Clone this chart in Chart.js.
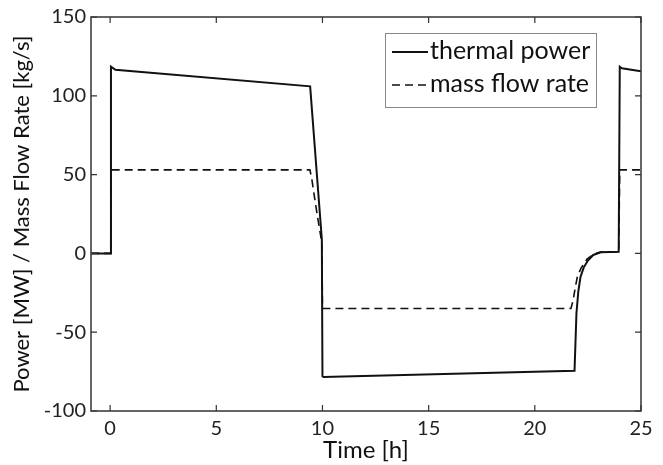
<!DOCTYPE html>
<html>
<head>
<meta charset="utf-8">
<script src="https://cdn.jsdelivr.net/npm/chart.js@4"></script>
<style>
  html, body { margin: 0; padding: 0; background: #fff; }
  #wrap { width: 663px; height: 465px; }
</style>
</head>
<body>
<div id="wrap"><canvas id="grafico" width="663" height="465"></canvas></div>
<script>
// dados
const tempoPotencia = [-0.9, 0.03, 0.04, 0.25, 9.42, 9.97, 10.0, 10.05, 21.87, 21.96, 22.05, 22.15, 22.3, 22.5, 22.75, 23.1, 23.95, 24.0, 24.1, 25];
const potencia      = [0, 0, 118.5, 116.5, 106, 9, -78, -78.5, -74.5, -38, -24, -15, -9, -4.5, -1, 0.7, 1, 118.5, 117.5, 115.5];

const tempoVazao = [-0.9, 0.03, 0.04, 9.41, 9.5, 9.61, 9.77, 9.93, 9.97, 10.0, 21.7, 21.8, 21.9, 22.0, 22.17, 22.47, 22.8, 23.1, 23.95, 24.0, 25];
const vazao      = [0, 0, 53, 53, 47, 37, 23, 10, 9, -35, -35, -30, -22, -15, -9.5, -3.4, -0.3, 0.8, 1, 53, 53];

const ticksX = [0, 5, 10, 15, 20, 25];
const ticksY = [-100, -50, 0, 50, 100, 150];

const fonte = 'Lato, "Open Sans", sans-serif';

// caixa do gráfico + ticks para dentro (estilo matlab)
const moldura = {
  id: 'moldura',
  afterDatasetsDraw(chart) {
    const { ctx, chartArea: a, scales } = chart;
    ctx.save();
    ctx.strokeStyle = '#333';
    ctx.lineWidth = 1.5;
    ctx.strokeRect(a.left, a.top, a.right - a.left, a.bottom - a.top);
    ctx.lineWidth = 1.2;
    ctx.beginPath();
    ticksX.forEach(v => {
      const px = scales.x.getPixelForValue(v);
      ctx.moveTo(px, a.bottom); ctx.lineTo(px, a.bottom - 6);
      ctx.moveTo(px, a.top); ctx.lineTo(px, a.top + 6);
    });
    ticksY.forEach(v => {
      const py = scales.y.getPixelForValue(v);
      ctx.moveTo(a.left, py); ctx.lineTo(a.left + 6, py);
      ctx.moveTo(a.right, py); ctx.lineTo(a.right - 6, py);
    });
    ctx.stroke();

    // legenda
    const bx = a.left + 294, by = a.top + 16, bw = 211, bh = 74;
    ctx.fillStyle = '#fff';
    ctx.fillRect(bx, by, bw, bh);
    ctx.strokeStyle = '#888';
    ctx.lineWidth = 1;
    ctx.strokeRect(bx + 0.5, by + 0.5, bw, bh);
    ctx.font = '25px ' + fonte;
    ctx.textBaseline = 'middle';
    chart.data.datasets.forEach((ds, i) => {
      const y = by + 19 + i * 33;
      ctx.strokeStyle = '#111';
      ctx.lineWidth = ds.borderWidth;
      ctx.setLineDash(ds.borderDash || []);
      ctx.beginPath();
      ctx.moveTo(bx + 7, y); ctx.lineTo(bx + 43, y);
      ctx.stroke();
      ctx.setLineDash([]);
      ctx.fillStyle = '#111';
      ctx.fillText(ds.label, bx + 45, y - 1);
    });
    ctx.restore();
  }
};

new Chart(document.getElementById('grafico'), {
  type: 'line',
  data: {
    datasets: [
      {
        label: 'thermal power',
        data: tempoPotencia.map((t, i) => ({ x: t, y: potencia[i] })),
        borderColor: '#111',
        borderWidth: 2,
        pointRadius: 0,
        tension: 0
      },
      {
        label: 'mass flow rate',
        data: tempoVazao.map((t, i) => ({ x: t, y: vazao[i] })),
        borderColor: '#111',
        borderWidth: 1.6,
        borderDash: [8, 5],
        pointRadius: 0,
        tension: 0
      }
    ]
  },
  plugins: [moldura],
  options: {
    responsive: false,
    animation: false,
    layout: { padding: { top: 12, right: 22, left: 0, bottom: 0 } },
    plugins: { legend: { display: false }, tooltip: { enabled: false } },
    scales: {
      x: {
        type: 'linear',
        min: -0.9,
        max: 25,
        afterBuildTicks: s => { s.ticks = ticksX.map(v => ({ value: v })); },
        afterFit: s => { s.height = 54; },
        grid: { display: false, drawTicks: false },
        border: { display: false },
        ticks: { color: '#222', font: { family: fonte, size: 20 }, padding: 6 },
        title: { display: true, text: 'Time [h]', color: '#111', font: { family: fonte, size: 24 }, padding: { top: 0, bottom: 0 } }
      },
      y: {
        min: -100,
        max: 150,
        afterBuildTicks: s => { s.ticks = ticksY.map(v => ({ value: v })); },
        afterFit: s => { s.width = 91; },
        grid: { display: false, drawTicks: false },
        border: { display: false },
        ticks: { color: '#222', font: { family: fonte, size: 20 }, padding: 5 },
        title: { display: true, text: 'Power [MW] / Mass Flow Rate [kg/s]', color: '#111', font: { family: fonte, size: 22 }, padding: { top: 9, bottom: 0 } }
      }
    }
  }
});
</script>
</body>
</html>
